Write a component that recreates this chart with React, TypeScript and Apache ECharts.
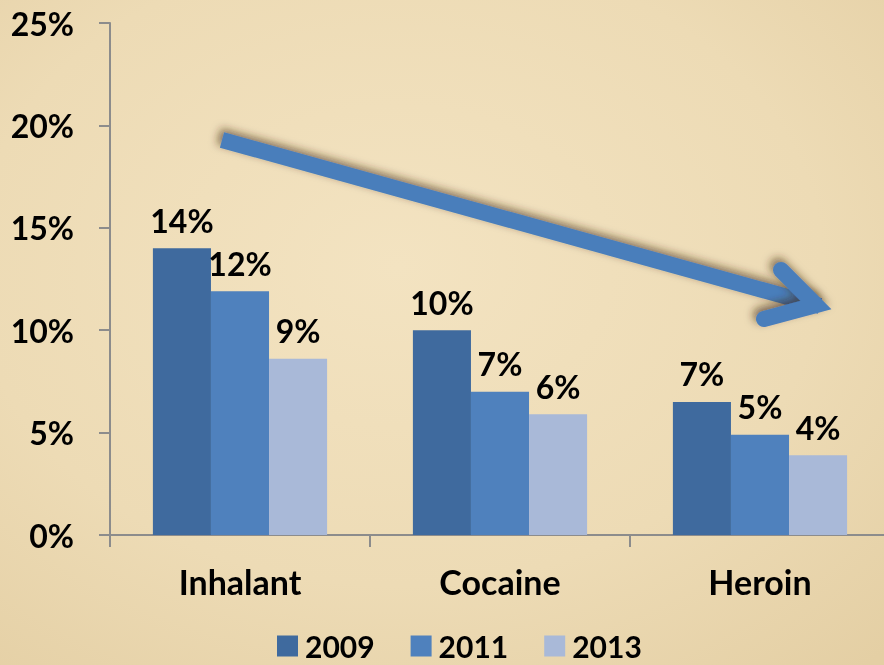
import React, { useEffect, useRef } from "react";
import * as echarts from "echarts";

const categories = ["Inhalant", "Cocaine", "Heroin"];
const years = ["2009", "2011", "2013"];
const values2009 = [14.0, 10.0, 6.5];
const values2011 = [11.9, 7.0, 4.9];
const values2013 = [8.6, 5.9, 3.9];
const yTicks = [0, 5, 10, 15, 20, 25];
const colors = ["#3f6a9e", "#4f81bd", "#a9b9d8"];

const FONT = "Lato, 'Open Sans', sans-serif";
const WEIGHT = "bold";

export default function App() {
  const ref = useRef<HTMLDivElement>(null);
  useEffect(() => {
    if (!ref.current) return;
    const chart = echarts.init(ref.current, undefined, { renderer: "svg" });
    const seriesData = [values2009, values2011, values2013];
    const labelStyle = {
      show: true,
      position: "top" as const,
      distance: 12,
      color: "#000",
      fontFamily: FONT,
      fontWeight: WEIGHT,
      fontSize: 32,
      formatter: (p: any) => Math.round(p.value) + "%",
    };
    const shadow = {
      shadowBlur: 9,
      shadowOffsetX: -3,
      shadowOffsetY: -4,
      shadowColor: "rgba(60,40,10,0.6)",
    };
    chart.setOption({
      animation: false,
      backgroundColor: {
        type: "radial",
        x: 0.45,
        y: 0.4,
        r: 0.8,
        colorStops: [
          { offset: 0, color: "#f3e3c1" },
          { offset: 0.6, color: "#eddbb5" },
          { offset: 1, color: "#e4cfa4" },
        ],
      },
      grid: {
        left: 110,
        width: 780,
        top: 23,
        bottom: 130,
        containLabel: false,
        outerBoundsMode: "none",
      },
      legend: {
        data: years,
        left: 277,
        top: 631,
        padding: 0,
        itemWidth: 21,
        itemHeight: 21,
        itemGap: 36,
        icon: "rect",
        textStyle: {
          color: "#000",
          fontFamily: FONT,
          fontWeight: WEIGHT,
          fontSize: 30,
          lineHeight: 30,
          padding: [0, 0, 0, 2],
        },
      },
      xAxis: {
        type: "category",
        data: categories,
        axisLine: { lineStyle: { color: "#8c8c8c", width: 2 } },
        axisTick: { show: true, length: 12, lineStyle: { color: "#8c8c8c", width: 2 } },
        axisLabel: {
          color: "#000",
          fontFamily: FONT,
          fontWeight: WEIGHT,
          fontSize: 34,
          margin: 29,
        },
      },
      yAxis: {
        type: "value",
        min: 0,
        max: 25,
        interval: 5,
        splitLine: { show: false },
        axisLine: { show: true, lineStyle: { color: "#8c8c8c", width: 2 } },
        axisTick: { show: true, length: 11, lineStyle: { color: "#8c8c8c", width: 2 } },
        axisLabel: {
          color: "#000",
          fontFamily: FONT,
          fontWeight: WEIGHT,
          fontSize: 32,
          margin: 36,
          formatter: (v: number) => (yTicks.includes(v) ? v + "%" : ""),
        },
      },
      series: years.map((y, i) => ({
        name: y,
        type: "bar",
        data: seriesData[i],
        barGap: "0%",
        barCategoryGap: "33%",
        itemStyle: { color: colors[i] },
        label: labelStyle,
      })),
      graphic: [
        {
          type: "line",
          z: 100,
          shape: { x1: 222, y1: 140, x2: 820, y2: 306 },
          style: { stroke: "#4a7ebb", lineWidth: 16, lineCap: "butt", ...shadow },
        },
        {
          type: "polyline",
          z: 100,
          shape: { points: [[781, 270], [816, 305], [764, 319]] },
          style: {
            stroke: "#4a7ebb",
            lineWidth: 16,
            lineCap: "round",
            lineJoin: "miter",
            miterLimit: 10,
            fill: "none",
            ...shadow,
          },
        },
      ],
    });
    return () => chart.dispose();
  }, []);
  return (
    <div
      ref={ref}
      style={{ position: "fixed", left: 0, top: 0, width: 884, height: 665 }}
    />
  );
}
